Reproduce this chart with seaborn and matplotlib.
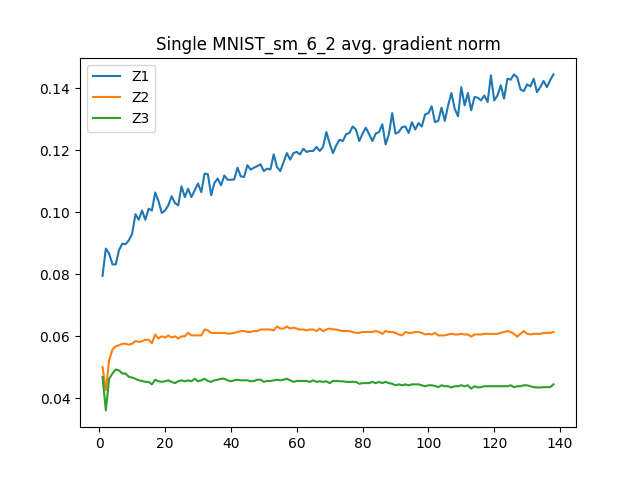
import numpy as np
import pandas as pd
import seaborn as sns
import matplotlib
matplotlib.use("Agg")
import matplotlib.pyplot as plt

# values, epochs 1..138
z1 = [0.0795, 0.0883, 0.0867, 0.0832, 0.0832, 0.0878, 0.0899, 0.0897, 0.0910, 0.0931,
      0.0994, 0.0976, 0.1006, 0.0976, 0.1012, 0.1006, 0.1064, 0.1036, 0.0998, 0.1006,
      0.1023, 0.1052, 0.1030, 0.1023, 0.1084, 0.1049, 0.1076, 0.1049, 0.1071, 0.1093,
      0.1065, 0.1125, 0.1123, 0.1055, 0.1095, 0.1109, 0.1087, 0.1119, 0.1105, 0.1105,
      0.1106, 0.1144, 0.1116, 0.1114, 0.1152, 0.1138, 0.1144, 0.1149, 0.1155,
      0.1133, 0.1141, 0.1138, 0.1187, 0.1146, 0.1133, 0.1162, 0.1191, 0.1170, 0.1191,
      0.1195, 0.1187, 0.1205, 0.1195, 0.1198, 0.1198, 0.1211, 0.1198, 0.1211, 0.1259,
      0.1222, 0.1191, 0.1216, 0.1234, 0.1230, 0.1252, 0.1256, 0.1277, 0.1267, 0.1230,
      0.1254, 0.1273, 0.1252, 0.1230, 0.1254, 0.1259, 0.1284, 0.1219, 0.1252, 0.1320,
      0.1254, 0.1259, 0.1275, 0.1277, 0.1256, 0.1291, 0.1267, 0.1288,
      0.1277, 0.1316, 0.1320, 0.1342, 0.1291, 0.1295, 0.1338, 0.1295, 0.1345, 0.1385,
      0.1334, 0.1310, 0.1404, 0.1345, 0.1385, 0.1329, 0.1372, 0.1370, 0.1361, 0.1377,
      0.1356, 0.1442, 0.1361, 0.1377, 0.1410, 0.1367, 0.1431, 0.1428, 0.1445, 0.1435,
      0.1396, 0.1391, 0.1413, 0.1406, 0.1431, 0.1388, 0.1404, 0.1424, 0.1404, 0.1426, 0.1445]

z2 = [0.0501, 0.0426, 0.0523, 0.0557, 0.0568, 0.0571, 0.0576, 0.0576, 0.0573, 0.0576,
      0.0585, 0.0582, 0.0584, 0.0589, 0.0589, 0.0578, 0.0606, 0.0593, 0.0600, 0.0596,
      0.0603, 0.0596, 0.0600, 0.0593, 0.0600, 0.0600, 0.0611, 0.0603, 0.0603, 0.0603,
      0.0603, 0.0622, 0.0619, 0.0611, 0.0611, 0.0611, 0.0611, 0.0611, 0.0609, 0.0609,
      0.0611, 0.0614, 0.0617, 0.0617, 0.0614, 0.0614, 0.0617, 0.0617, 0.0622,
      0.0622, 0.0622, 0.0622, 0.0619, 0.0632, 0.0625, 0.0625, 0.0632, 0.0625, 0.0628,
      0.0625, 0.0622, 0.0622, 0.0619, 0.0622, 0.0622, 0.0617, 0.0625, 0.0617, 0.0622,
      0.0625, 0.0622, 0.0622, 0.0619, 0.0617, 0.0617, 0.0617, 0.0614, 0.0611, 0.0611,
      0.0614, 0.0614, 0.0614, 0.0614, 0.0617, 0.0614, 0.0608, 0.0617, 0.0614, 0.0614,
      0.0611, 0.0606, 0.0603, 0.0614, 0.0611, 0.0611, 0.0614, 0.0614,
      0.0611, 0.0606, 0.0608, 0.0606, 0.0611, 0.0603, 0.0603, 0.0603, 0.0606, 0.0608,
      0.0606, 0.0606, 0.0608, 0.0606, 0.0606, 0.0599, 0.0606, 0.0606, 0.0606, 0.0608,
      0.0608, 0.0608, 0.0608, 0.0608, 0.0611, 0.0614, 0.0617, 0.0614, 0.0608, 0.0599,
      0.0608, 0.0617, 0.0608, 0.0606, 0.0608, 0.0608, 0.0608, 0.0611, 0.0611, 0.0611, 0.0614]

z3 = [0.0469, 0.0361, 0.0463, 0.0480, 0.0493, 0.0490, 0.0480, 0.0480, 0.0469, 0.0467,
      0.0463, 0.0458, 0.0456, 0.0453, 0.0453, 0.0445, 0.0460, 0.0455, 0.0453, 0.0455,
      0.0458, 0.0453, 0.0449, 0.0455, 0.0458, 0.0455, 0.0458, 0.0455, 0.0463, 0.0455,
      0.0458, 0.0463, 0.0456, 0.0453, 0.0458, 0.0460, 0.0463, 0.0463, 0.0458, 0.0455,
      0.0458, 0.0460, 0.0458, 0.0458, 0.0458, 0.0455, 0.0456, 0.0460,
      0.0460, 0.0453, 0.0456, 0.0456, 0.0458, 0.0460, 0.0458, 0.0460, 0.0463, 0.0458,
      0.0453, 0.0456, 0.0456, 0.0456, 0.0456, 0.0453, 0.0458, 0.0453, 0.0455, 0.0453,
      0.0455, 0.0449, 0.0456, 0.0456, 0.0455, 0.0455, 0.0453, 0.0453, 0.0453, 0.0453,
      0.0447, 0.0449, 0.0449, 0.0449, 0.0453, 0.0449, 0.0453, 0.0449, 0.0453, 0.0449,
      0.0447, 0.0442, 0.0445, 0.0442, 0.0445, 0.0442, 0.0445, 0.0445, 0.0445,
      0.0442, 0.0439, 0.0442, 0.0442, 0.0440, 0.0436, 0.0442, 0.0439, 0.0439, 0.0435,
      0.0439, 0.0439, 0.0442, 0.0439, 0.0442, 0.0431, 0.0439, 0.0435, 0.0436, 0.0439,
      0.0439, 0.0439, 0.0439, 0.0439, 0.0439, 0.0439, 0.0439, 0.0442, 0.0436, 0.0439,
      0.0439, 0.0442, 0.0442, 0.0439, 0.0436, 0.0435, 0.0435, 0.0436, 0.0436, 0.0436, 0.0445]

epochs = np.arange(1, len(z1) + 1)
series = {"Z1": z1, "Z2": z2, "Z3": z3}

fig, ax = plt.subplots(figsize=(6.4, 4.8), dpi=100)

# one lineplot per series so colours follow the default cycle
for name, vals in series.items():
    sns.lineplot(x=epochs, y=vals, label=name, ax=ax)

ax.set_title("Single MNIST_sm_6_2 avg. gradient norm")
ax.legend(loc="upper left")

fig.savefig("out.png", dpi=100)
